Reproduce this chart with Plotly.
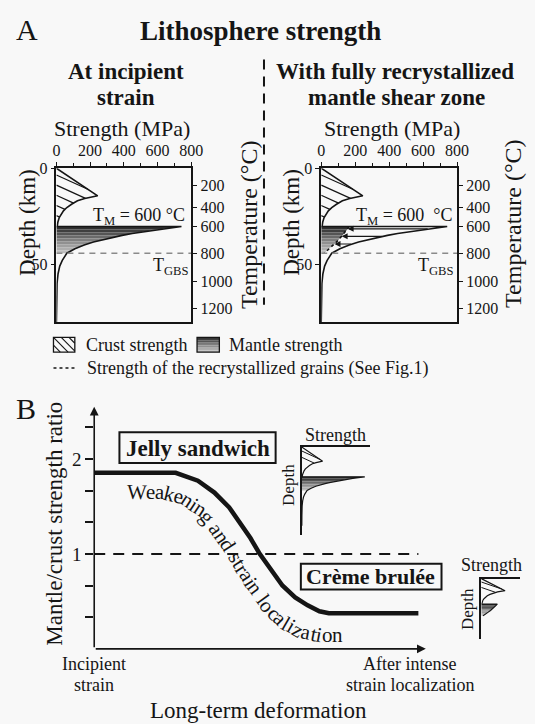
import math
import numpy as np
import plotly.graph_objects as go

W, H = 535, 724
FONT = "Liberation Serif"
INK = "#151515"
BG = "#f8f8f8"

# ---------------- strength envelopes (depth in km, strength in MPa) ----------------
crust_depth = [0, 14.4, 15.8, 17.0, 18.8, 20.5, 22.2, 24.0, 25.7, 28.0, 30.4]
crust_strength = [0, 245, 168, 125, 90, 62, 42, 28, 17, 9, 5]

mantle_depth = [30.4, 31.0, 32.0, 33.0, 34.0, 35.0, 36.0, 37.0, 38.5, 40.0, 42.0,
                44.3, 48.0, 51.0, 55.0, 60.0, 70.0, 80.4]
mantle_strength = [742, 690, 600, 520, 450, 390, 340, 285, 220, 165, 110,
                   62, 35, 20, 10, 4, 1, 0]

recryst_depth = [30.4, 32.0, 34.0, 36.0, 38.0, 40.0, 42.0, 44.3]
recryst_strength = [165, 152, 135, 115, 95, 72, 45, 18]

# depths where the weakening arrows are drawn
arrow_depth = [31.6, 35.5, 39.5]

# geotherm: temperature ticks and their depths
temp_ticks = [200, 400, 600, 800, 1000, 1200]
temp_depth = [8.8, 20.6, 30.4, 44.3, 58.8, 73.2]
T_M = 600
T_GBS = 800

depth_ticks = [0, 50]
strength_ticks = [0, 200, 400, 600, 800]
strength_minor = [100, 300, 500, 700]

# ---------------- panel B: mantle/crust strength ratio ----------------
stage_x = [0, 0.242, 0.308, 0.357, 0.401, 0.432, 0.464, 0.490, 0.524, 0.559,
           0.597, 0.634, 0.669, 0.697, 0.963]
ratio_y = [1.854, 1.854, 1.771, 1.646, 1.490, 1.333, 1.167, 1.010, 0.833, 0.667,
           0.542, 0.458, 0.396, 0.375, 0.375]
ratio_ref = 1.0
ratio_ticks = [1 / 3, 2 / 3, 1, 4 / 3, 5 / 3, 2, 7 / 3]
ratio_ticklabels = ["", "", "1", "", "", "2", ""]

# ---------------- helpers ----------------
fig = go.Figure()
annotations = []
shapes = []

moho = float(np.interp(T_M, temp_ticks, temp_depth))
gbs_depth = float(np.interp(T_GBS, temp_ticks, temp_depth))

band_edges = list(np.linspace(moho, gbs_depth, 10))
band_colors = ["#303030", "#3f3f3f", "#555555", "#6a6a6a", "#7e7e7e",
               "#909090", "#a0a0a0", "#aeaeae", "#bcbcbc"]


def fx(p):
    return p / W


def fy(p):
    return 1 - p / H


def label(text, x, y, size, bold=False, angle=0, xanchor="center", yanchor="middle"):
    annotations.append(dict(
        text=f"<b>{text}</b>" if bold else text, x=fx(x), y=fy(y),
        xref="paper", yref="paper", showarrow=False, textangle=angle,
        xanchor=xanchor, yanchor=yanchor,
        font=dict(family=FONT, size=size, color=INK)))


def line_trace(xs, ys, xa, ya, width=1.5, dash=None, color=INK):
    fig.add_trace(go.Scatter(x=xs, y=ys, xaxis=xa, yaxis=ya, mode="lines",
                             line=dict(color=color, width=width, dash=dash),
                             hoverinfo="skip", showlegend=False))


def gradient_fill(depths, strengths, xa, ya):
    for a, b, c in zip(band_edges[:-1], band_edges[1:], band_colors):
        d = [a] + [v for v in depths if a < v < b] + [b]
        s = list(np.interp(d, depths, strengths))
        fig.add_trace(go.Scatter(x=s, y=d, xaxis=xa, yaxis=ya, mode="lines",
                                 line=dict(width=0), fill="tozerox", fillcolor=c,
                                 hoverinfo="skip", showlegend=False))


def hatch(starts, ratio, xa, ya, width=1.2):
    S = np.linspace(0, 800, 4001)
    xs, ys = [], []
    for d0 in starts:
        d = d0 + ratio * S
        inside = S <= np.interp(d, crust_depth, crust_strength)
        k = len(S) if inside.all() else int(np.argmin(inside))
        if k < 2:
            continue
        xs += [0, float(S[k - 1]), None]
        ys += [d0, float(d[k - 1]), None]
    line_trace(xs, ys, xa, ya, width=width)


profile_depth = crust_depth + mantle_depth
profile_strength = crust_strength + mantle_strength

# ---------------- panel A, left: incipient strain ----------------
gradient_fill(mantle_depth, mantle_strength, "x", "y")
hatch([3.5, 8.8, 14.1, 19.4, 24.7], 0.040, "x", "y")
line_trace(profile_strength, profile_depth, "x", "y", width=1.6)
line_trace([0, 800], [gbs_depth, gbs_depth], "x", "y2", width=1.5, dash="6px,5px", color="#8a8a8a")

# ---------------- panel A, right: recrystallized shear zone ----------------
gradient_fill(recryst_depth, recryst_strength, "x2", "y3")
hatch([3.5, 8.8, 14.1, 19.4, 24.7], 0.040, "x2", "y3")
line_trace(profile_strength, profile_depth, "x2", "y3", width=1.6)
line_trace(recryst_strength, recryst_depth, "x2", "y3", width=1.6, dash="dot")
line_trace([0, 800], [gbs_depth, gbs_depth], "x2", "y4", width=1.5, dash="6px,5px", color="#8a8a8a")
for d in arrow_depth:
    annotations.append(dict(
        x=float(np.interp(d, recryst_depth, recryst_strength)), y=d,
        ax=float(np.interp(d, mantle_depth, mantle_strength)), ay=d,
        xref="x2", yref="y3", axref="x2", ayref="y3", text="", showarrow=True,
        arrowhead=2, arrowsize=1.1, arrowwidth=1.1, arrowcolor=INK))

# ---------------- panel B ----------------
line_trace([0, 0.963], [ratio_ref, ratio_ref], "x3", "y5", width=2, dash="11px,8px")
line_trace(stage_x, ratio_y, "x3", "y5", width=4.5)
for (tx, ty) in [(0, 2.55), (0.985, 0)]:
    annotations.append(dict(x=tx, y=ty, ax=0, ay=0, xref="x3", yref="y5",
                            axref="x3", ayref="y5", text="", showarrow=True,
                            arrowhead=2, arrowsize=1.1, arrowwidth=1.6, arrowcolor=INK))

# inset: jelly sandwich profile
gradient_fill(mantle_depth, mantle_strength, "x4", "y6")
hatch([4.0, 10.5], 0.040, "x4", "y6", width=1)
line_trace(profile_strength, profile_depth, "x4", "y6", width=1.2)

# inset: crème brûlée profile
gradient_fill(recryst_depth, recryst_strength, "x5", "y7")
hatch([4.0, 10.5], 0.040, "x5", "y7", width=1)
line_trace(crust_strength, crust_depth, "x5", "y7", width=1.2)
line_trace([crust_strength[-1]] + recryst_strength, [moho] + recryst_depth, "x5", "y7", width=1.2)

# ---------------- axes ----------------
tickfont = dict(family=FONT, size=16, color=INK)
strength_axis = dict(range=[0, 800], side="top", showline=True, mirror=True, linecolor=INK,
                     linewidth=1.5, ticks="outside", ticklen=4, tickwidth=1.2, tickcolor=INK,
                     tickvals=strength_ticks, tickfont=tickfont, showgrid=False, zeroline=False,
                     minor=dict(tickvals=strength_minor, ticks="outside", ticklen=3,
                                tickcolor=INK, tickwidth=1))
depth_axis = dict(range=[80.4, 0], showline=True, mirror=True, linecolor=INK, linewidth=1.5,
                  ticks="outside", ticklen=4, tickwidth=1.2, tickcolor=INK, tickvals=depth_ticks,
                  tickfont=tickfont, showgrid=False, zeroline=False)
temp_axis = dict(range=[80.4, 0], side="right", tickvals=temp_depth,
                 ticktext=[str(t) for t in temp_ticks], ticks="outside", ticklen=5,
                 tickwidth=1.2, tickcolor=INK, showline=False, showgrid=False,
                 zeroline=False, tickfont=tickfont)
prof_dom = [fy(318), fy(162)]
plain = dict(showgrid=False, zeroline=False, showticklabels=False, ticks="")

layout_axes = dict(
    xaxis=dict(domain=[fx(54), fx(193)], anchor="y", **strength_axis),
    yaxis=dict(domain=prof_dom, anchor="x", **depth_axis),
    yaxis2=dict(overlaying="y", anchor="x", **temp_axis),
    xaxis2=dict(domain=[fx(327), fx(467)], anchor="y3", **strength_axis),
    yaxis3=dict(domain=prof_dom, anchor="x2", **depth_axis),
    yaxis4=dict(overlaying="y3", anchor="x2", **temp_axis),
    xaxis3=dict(domain=[fx(93), fx(440)], range=[0, 1], anchor="y5", visible=False),
    yaxis5=dict(domain=[fy(648), fy(400)], range=[0, 248 / 96], anchor="x3",
                tickvals=ratio_ticks, ticktext=ratio_ticklabels, ticks="outside",
                ticklen=8, tickwidth=1.5, tickcolor=INK, showline=False, showgrid=False,
                zeroline=False, tickfont=dict(family=FONT, size=19, color=INK)),
    xaxis4=dict(domain=[fx(307), fx(377)], range=[0, 800], anchor="y6", side="top",
                showline=True, linecolor=INK, linewidth=1.5, **plain),
    yaxis6=dict(domain=[fy(533), fy(444)], range=[89.9, 0], anchor="x4",
                showline=True, linecolor=INK, linewidth=1.5, **plain),
    xaxis5=dict(domain=[fx(492), fx(532)], range=[0, 400], anchor="y7", side="top",
                showline=True, linecolor=INK, linewidth=1.5, **plain),
    yaxis7=dict(domain=[fy(638), fy(577)], range=[72, 0], anchor="x5",
                showline=True, linecolor=INK, linewidth=1.5, **plain),
)

# ---------------- text ----------------
label("A", 24, 22, 30)
label("Lithosphere strength", 264, 23, 27, bold=True)
label("At incipient", 126, 64, 23, bold=True)
label("strain", 126, 91, 23, bold=True)
label("With fully recrystallized", 403, 64, 23, bold=True)
label("mantle shear zone", 405, 91, 23, bold=True)
label("Strength (MPa)", 122, 122, 22)
label("Strength (MPa)", 400, 122, 22)
label("Depth (km)", 24, 217, 23, angle=-90)
label("Depth (km)", 296, 217, 23, angle=-90)
label("Temperature (°C)", 252, 219, 24, angle=-90)
label("Temperature (°C)", 524, 218, 24, angle=-90)
label(f"T<sub>M</sub> = {T_M} °C", 139, 211, 18)
label(f"T<sub>M</sub> = {T_M}\u00a0\u00a0°C", 413, 211, 18)
label("T<sub>GBS</sub>", 172, 261, 18)
label("T<sub>GBS</sub>", 445, 261, 18)

label("Crust strength", 82, 341, 18, xanchor="left")
label("Mantle strength", 230, 341, 18, xanchor="left")
label("Strength of the recrystallized grains (See Fig.1)", 83, 365, 18, xanchor="left")

label("B", 23, 405, 30)
label("Mantle/crust strength ratio", 52, 521, 23, angle=-90)
label("Jelly sandwich", 200, 445, 23, bold=True)
label("Crème brulée", 378, 575, 22, bold=True)
label("Incipient", 93, 663, 18)
label("strain", 93, 685, 18)
label("After intense", 418, 663, 18)
label("strain localization", 419, 685, 18)
label("Long-term deformation", 262, 710, 23)
label("Strength", 342, 432, 18)
label("Depth", 293, 482, 17, angle=-90)
label("Strength", 503, 563, 18)
label("Depth", 478, 608, 17, angle=-90)

# text set along the weakening path
EM = {"W": .944, "e": .444, "a": .444, "k": .5, "n": .5, "i": .278, "g": .5, " ": .25,
      "d": .5, "s": .389, "t": .278, "r": .333, "l": .278, "o": .5, "c": .444, "z": .444}
path = [(127, 489), (165, 490), (185, 495), (203, 507), (217, 523), (230, 542), (244, 564),
        (258, 586), (272, 605), (287, 620), (304, 630), (325, 634), (370, 634)]
seg = [math.dist(path[i], path[i + 1]) for i in range(len(path) - 1)]
cum = np.concatenate([[0], np.cumsum(seg)])


def point_at(s):
    i = int(np.clip(np.searchsorted(cum, s) - 1, 0, len(seg) - 1))
    t = (s - cum[i]) / seg[i]
    (x0, y0), (x1, y1) = path[i], path[i + 1]
    return x0 + t * (x1 - x0), y0 + t * (y1 - y0), math.degrees(math.atan2(y1 - y0, x1 - x0))


size = 21
s = 0.0
for ch in "Weakening and strain localization":
    w = EM.get(ch, .5) * size
    if ch != " ":
        x, y, ang = point_at(s + w / 2)
        annotations.append(dict(text=ch, x=fx(x), y=fy(y), xref="paper", yref="paper",
                                showarrow=False, textangle=ang, xanchor="center",
                                yanchor="middle", font=dict(family=FONT, size=size, color=INK)))
    s += w

# ---------------- decorations ----------------
def pline(x0, y0, x1, y1, width=1.2, dash=None, color=INK):
    shapes.append(dict(type="line", xref="paper", yref="paper", x0=fx(x0), y0=fy(y0),
                       x1=fx(x1), y1=fy(y1), line=dict(color=color, width=width, dash=dash)))


def prect(x0, y0, x1, y1, width=1.2, fill=None, lw_color=INK):
    shapes.append(dict(type="rect", xref="paper", yref="paper", x0=fx(x0), y0=fy(y0),
                       x1=fx(x1), y1=fy(y1), fillcolor=fill,
                       line=dict(color=lw_color, width=width)))


# separator between the two profiles
pline(268, 52, 268, 300, width=2, dash="10px,7px")

# legend keys
for k in [-8, 0, 8, 16]:
    xa, ya = 51 + k, 333
    xb, yb = xa + 15, 348
    if xa < 51:
        ya += 51 - xa
        xa = 51
    if xb > 73:
        yb -= xb - 73
        xb = 73
    pline(xa, ya, xb, yb, width=1.1)
prect(51, 333, 73, 348, width=1.3)
hgt = 15 / len(band_colors)
for i, c in enumerate(band_colors):
    prect(199, 333 + i * hgt, 222, 333 + (i + 1) * hgt, width=0, fill=c)
prect(199, 333, 222, 348, width=1.3)
pline(51, 364, 75, 364, width=1.5, dash="dot")

# regime boxes
prect(119, 429, 280, 460, width=2)
prect(306, 562, 451, 588, width=2)

fig.update_layout(
    width=W, height=H, margin=dict(l=0, r=0, t=0, b=0),
    font=dict(family=FONT, color=INK),
    paper_bgcolor=BG, plot_bgcolor=BG, showlegend=False,
    annotations=annotations, shapes=shapes, **layout_axes)

fig.write_html("out.html")
